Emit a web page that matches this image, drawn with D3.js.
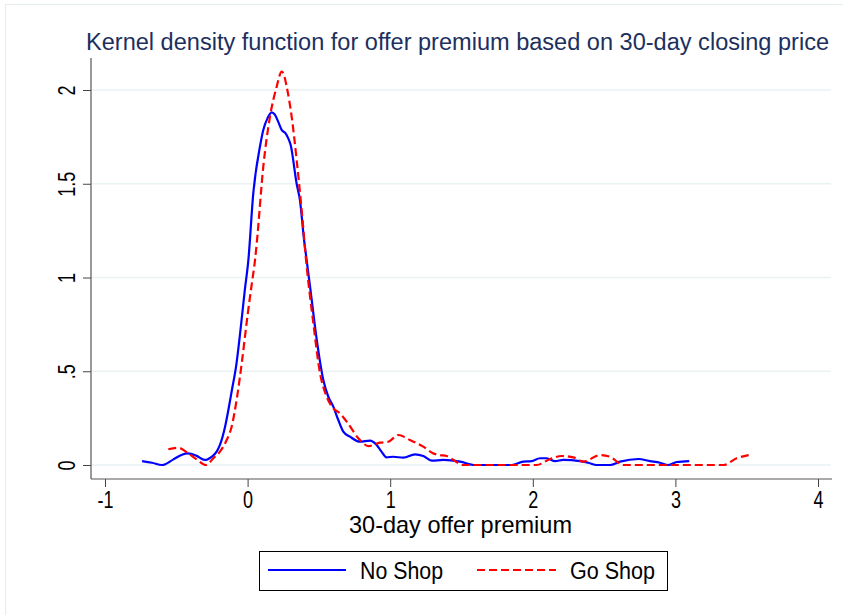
<!DOCTYPE html>
<html><head><meta charset="utf-8">
<script src="https://cdn.jsdelivr.net/npm/d3@7"></script>
<style>body{margin:0;background:#fff;} svg{display:block;font-family:"Liberation Sans",Arial,sans-serif;}</style>
</head><body>
<svg id="chart" width="843" height="615"></svg>
<script>
const titleText = "Kernel density function for offer premium based on 30-day closing price";
const xTitle = "30-day offer premium";
const seriesNames = ["No Shop", "Go Shop"];
const xTicks = [-1, 0, 1, 2, 3, 4];
const xTickLabels = ["-1", "0", "1", "2", "3", "4"];
const yTicks = [0, 0.5, 1, 1.5, 2];
const yTickLabels = ["0", ".5", "1", "1.5", "2"];

const noShopX = [-0.74,-0.67,-0.60,-0.52,-0.46,-0.42,-0.36,-0.30,-0.25,-0.217,-0.194,-0.158,-0.135,-0.11,-0.08,-0.05,-0.02,0.005,0.04,0.087,0.11,0.14,0.169,0.19,0.215,0.239,0.265,0.285,0.302,0.344,0.367,0.396,0.414,0.438,0.485,0.531,0.566,0.601,0.636,0.671,0.718,0.788,0.858,0.905,0.94,0.975,1.022,1.092,1.174,1.232,1.291,1.372,1.49,1.595,1.852,1.933,1.992,2.05,2.097,2.156,2.214,2.331,2.389,2.448,2.541,2.612,2.74,2.822,2.892,2.95,3.009,3.097];
const noShopY = [0.021,0.012,0.0,0.03,0.055,0.062,0.05,0.027,0.045,0.071,0.107,0.204,0.293,0.40,0.53,0.72,0.93,1.09,1.45,1.70,1.787,1.85,1.881,1.87,1.83,1.787,1.77,1.742,1.707,1.50,1.413,1.2,1.093,0.951,0.667,0.453,0.364,0.311,0.24,0.178,0.151,0.124,0.13,0.107,0.07,0.041,0.044,0.039,0.057,0.048,0.023,0.027,0.018,0.0,0.0,0.018,0.021,0.036,0.036,0.021,0.027,0.021,0.012,0.0,0.0,0.018,0.032,0.021,0.012,0.0,0.016,0.021];

const goShopX = [-0.556,-0.486,-0.427,-0.357,-0.292,-0.24,-0.194,-0.147,-0.112,-0.077,-0.04,0.0,0.03,0.052,0.064,0.11,0.157,0.204,0.239,0.255,0.274,0.309,0.344,0.379,0.41,0.461,0.508,0.555,0.601,0.648,0.695,0.788,0.847,0.928,0.987,1.057,1.139,1.232,1.302,1.349,1.396,1.443,1.513,2.027,2.121,2.203,2.284,2.354,2.471,2.541,2.635,3.336,3.43,3.518];
const goShopY = [0.084,0.092,0.068,0.03,0.0,0.036,0.071,0.133,0.204,0.347,0.55,0.80,0.97,1.093,1.182,1.591,1.858,2.018,2.098,2.08,2.018,1.858,1.627,1.36,1.093,0.756,0.489,0.364,0.302,0.276,0.231,0.133,0.101,0.119,0.124,0.16,0.133,0.098,0.062,0.053,0.048,0.027,0.0,0.0,0.032,0.048,0.041,0.018,0.053,0.044,0.0,0.0,0.036,0.053];

const svg = d3.select("#chart");
svg.append("rect").attr("x",5.5).attr("y",4.5).attr("width",900).attr("height",700)
  .attr("fill","#fff").attr("stroke","#e3edf0").attr("stroke-width",1);

const x = d3.scaleLinear().domain([-1,4]).range([105,818]);
const y = d3.scaleLinear().domain([0,2]).range([465,90]);
const plotL = 91, plotR = 832, plotT = 58, plotB = 479;

function squeeze(sel, f){
  sel.each(function(){
    const w = this.getComputedTextLength();
    d3.select(this).attr("textLength", w*f).attr("lengthAdjust","spacingAndGlyphs");
  });
}

svg.append("g").selectAll("line").data(yTicks).join("line")
  .attr("x1",plotL).attr("x2",plotR-1).attr("y1",d=>y(d)).attr("y2",d=>y(d))
  .attr("stroke","#eaf2f3").attr("stroke-width",1.6);

const yAxis = d3.axisLeft(y).tickValues(yTicks).tickFormat((d,i)=>yTickLabels[i]).tickSize(8);
const gy = svg.append("g").attr("transform",`translate(${plotL},0)`).call(yAxis);
gy.attr("font-size",null).attr("font-family",null);
gy.select(".domain").remove();
gy.selectAll(".tick line").attr("stroke","#444");
gy.selectAll(".tick text").style("font-size","24px").attr("fill","#000")
  .style("font-family","'Liberation Sans', Arial, sans-serif")
  .attr("text-anchor","middle").attr("x",0).attr("y",0).attr("dy",null)
  .attr("dominant-baseline","central")
  .attr("transform",`translate(-25,0) rotate(-90)`);
squeeze(gy.selectAll(".tick text"), 0.75);

svg.append("line").attr("x1",plotL).attr("x2",plotL).attr("y1",plotT).attr("y2",plotB).attr("stroke","#555").attr("stroke-width",1.2);

const xAxis = d3.axisBottom(x).tickValues(xTicks).tickFormat((d,i)=>xTickLabels[i]).tickSize(8).tickPadding(4);
const gx = svg.append("g").attr("transform",`translate(0,${plotB})`).call(xAxis);
gx.attr("font-size",null).attr("font-family",null);
gx.select(".domain").remove();
gx.selectAll(".tick line").attr("stroke","#444");
gx.selectAll(".tick text").style("font-size","24px").attr("fill","#000").style("font-family","'Liberation Sans', Arial, sans-serif");
squeeze(gx.selectAll(".tick text"), 0.75);
svg.append("line").attr("x1",plotL).attr("x2",plotR).attr("y1",plotB).attr("y2",plotB).attr("stroke","#555").attr("stroke-width",1.2);

const line = d3.line().x(d=>x(d[0])).y(d=>y(d[1])).curve(d3.curveMonotoneX);
const noShop = noShopX.map((v,i)=>[v,noShopY[i]]);
const goShop = goShopX.map((v,i)=>[v,goShopY[i]]);
svg.append("path").datum(noShop).attr("d",line).attr("fill","none").attr("stroke","#0000ff").attr("stroke-width",2.2);
svg.append("path").datum(goShop).attr("d",line).attr("fill","none").attr("stroke","#ff0000").attr("stroke-width",2.2).attr("stroke-dasharray","8,4");

svg.append("text").attr("x",86).attr("y",50).attr("font-size",23).attr("fill","#1c2f5e")
  .attr("textLength",743).attr("lengthAdjust","spacingAndGlyphs").text(titleText);
svg.append("text").attr("x",349).attr("y",533).attr("font-size",24).attr("fill","#000")
  .attr("textLength",223).attr("lengthAdjust","spacingAndGlyphs").text(xTitle);

const lg = svg.append("g");
lg.append("rect").attr("x",259.5).attr("y",551.5).attr("width",408).attr("height",39).attr("fill","#fff").attr("stroke","#000").attr("stroke-width",1);
lg.append("line").attr("x1",268).attr("x2",346).attr("y1",570).attr("y2",570).attr("stroke","#0000ff").attr("stroke-width",2.2);
lg.append("text").attr("x",360).attr("y",579).attr("font-size",23).attr("textLength",83).attr("lengthAdjust","spacingAndGlyphs").text(seriesNames[0]);
lg.append("line").attr("x1",477).attr("x2",556).attr("y1",570).attr("y2",570).attr("stroke","#ff0000").attr("stroke-width",2.2).attr("stroke-dasharray","8,4");
lg.append("text").attr("x",570).attr("y",579).attr("font-size",23).attr("textLength",85).attr("lengthAdjust","spacingAndGlyphs").text(seriesNames[1]);
</script>
</body></html>
